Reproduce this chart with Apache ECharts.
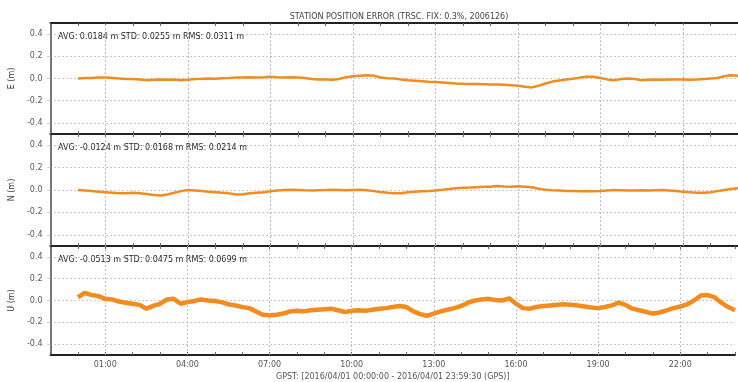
<!DOCTYPE html>
<html>
<head>
<meta charset="utf-8">
<script src="https://cdn.jsdelivr.net/npm/echarts@6/dist/echarts.min.js"></script>
<style>
  html, body { margin: 0; padding: 0; background: #fff; }
  #chart { width: 738px; height: 382px; }
</style>
</head>
<body>
<div id="chart"></div>
<script>
// hours of day, 15 min steps
const hours = [
  0, 0.25, 0.5, 0.75, 1, 1.25, 1.5, 1.75, 2, 2.25, 2.5, 2.75, 3, 3.25, 3.5, 3.75,
  4, 4.25, 4.5, 4.75, 5, 5.25, 5.5, 5.75, 6, 6.25, 6.5, 6.75, 7, 7.25, 7.5, 7.75,
  8, 8.25, 8.5, 8.75, 9, 9.25, 9.5, 9.75, 10, 10.25, 10.5, 10.75, 11, 11.25, 11.5, 11.75,
  12, 12.25, 12.5, 12.75, 13, 13.25, 13.5, 13.75, 14, 14.25, 14.5, 14.75, 15, 15.25, 15.5, 15.75,
  16, 16.25, 16.5, 16.75, 17, 17.25, 17.5, 17.75, 18, 18.25, 18.5, 18.75, 19, 19.25, 19.5, 19.75,
  20, 20.25, 20.5, 20.75, 21, 21.25, 21.5, 21.75, 22, 22.25, 22.5, 22.75, 23, 23.25, 23.5, 23.75, 24
];

const eastErr = [
  0.0, 0.005, 0.005, 0.01, 0.01, 0.005, 0.0, -0.005, -0.005, -0.01, -0.015, -0.012, -0.01, -0.012, -0.01, -0.015,
  -0.012, -0.005, -0.003, 0.0, -0.002, 0.003, 0.005, 0.008, 0.01, 0.012, 0.01, 0.012, 0.015, 0.012, 0.01, 0.012,
  0.01, 0.005, -0.005, -0.008, -0.01, -0.012, -0.005, 0.012, 0.02, 0.025, 0.03, 0.025, 0.01, 0.003, 0.0, -0.008,
  -0.015, -0.02, -0.025, -0.03, -0.032, -0.035, -0.04, -0.045, -0.048, -0.05, -0.05, -0.052, -0.055, -0.055, -0.057, -0.06,
  -0.065, -0.075, -0.08, -0.065, -0.045, -0.028, -0.018, -0.01, -0.002, 0.008, 0.015, 0.015, 0.005, -0.008, -0.015, -0.005,
  0.0, -0.005, -0.015, -0.012, -0.01, -0.012, -0.01, -0.008, -0.01, -0.012, -0.01, -0.005, 0.0, 0.005, 0.02, 0.03, 0.025
];

const northErr = [
  0.0, -0.005, -0.01, -0.015, -0.02, -0.025, -0.03, -0.028, -0.025, -0.03, -0.035, -0.045, -0.05, -0.04, -0.025, -0.01,
  0.0, -0.005, -0.01, -0.015, -0.02, -0.025, -0.03, -0.04, -0.038, -0.03, -0.025, -0.02, -0.012, -0.005, 0.0, 0.002,
  0.0, -0.003, -0.005, -0.002, 0.0, 0.003, 0.0, -0.003, 0.0, 0.002, -0.003, -0.01, -0.018, -0.025, -0.03, -0.028,
  -0.02, -0.015, -0.012, -0.01, -0.005, 0.002, 0.01, 0.015, 0.02, 0.022, 0.025, 0.028, 0.03, 0.035, 0.032, 0.03,
  0.033, 0.03, 0.025, 0.012, 0.003, -0.002, -0.005, -0.008, -0.01, -0.012, -0.01, -0.012, -0.01, -0.005, 0.0, -0.002,
  -0.005, -0.005, -0.003, -0.005, -0.002, 0.0, -0.005, -0.01, -0.015, -0.02, -0.025, -0.025, -0.02, -0.01, 0.0, 0.01, 0.015
];

const upErr = [
  0.03, 0.07, 0.05, 0.04, 0.015, 0.01, -0.01, -0.02, -0.03, -0.04, -0.075, -0.05, -0.03, 0.01, 0.015, -0.03,
  -0.015, -0.005, 0.01, 0.0, -0.005, -0.015, -0.035, -0.045, -0.06, -0.07, -0.1, -0.13, -0.135, -0.13, -0.12, -0.1,
  -0.095, -0.1, -0.09, -0.085, -0.08, -0.075, -0.09, -0.105, -0.095, -0.09, -0.095, -0.085, -0.075, -0.07, -0.06, -0.05,
  -0.06, -0.1, -0.125, -0.14, -0.12, -0.1, -0.085, -0.07, -0.05, -0.02, 0.0, 0.01, 0.015, 0.005, 0.0, 0.02,
  -0.03, -0.07, -0.075, -0.06, -0.05, -0.045, -0.04, -0.035, -0.04, -0.045, -0.055, -0.065, -0.07, -0.06, -0.045, -0.02,
  -0.04, -0.075, -0.09, -0.105, -0.12, -0.11, -0.09, -0.07, -0.055, -0.035, 0.0, 0.045, 0.05, 0.03, -0.02, -0.06, -0.09
];

const yTicks = [-0.4, -0.2, 0.0, 0.2, 0.4];
const majorHours = [1, 4, 7, 10, 13, 16, 19, 22];
const panelNames = ['E (m)', 'N (m)', 'U (m)'];
const panelStats = [
  'AVG: 0.0184 m STD: 0.0255 m RMS: 0.0311 m',
  'AVG: -0.0124 m STD: 0.0168 m RMS: 0.0214 m',
  'AVG: -0.0513 m STD: 0.0475 m RMS: 0.0699 m'
];
const panelData = [eastErr, northErr, upErr];

const chart = echarts.init(document.getElementById('chart'));

const font = 'DejaVu Sans';
const grids = [
  { left: 50, right: -2, top: 23, height: 111 },
  { left: 50, right: -2, top: 134, height: 112 },
  { left: 50, right: -2, top: 246, height: 111 }
];

const xAxes = [];
const yAxes = [];
const series = [];
const graphics = [];

grids.forEach((g, i) => {
  // bottom axis
  xAxes.push({
    type: 'value', gridIndex: i, position: 'bottom',
    min: -1, max: 24, interval: 1,
    axisLine: { show: true, onZero: false, lineStyle: { color: '#222', width: 2 } },
    axisTick: { show: true, inside: true, length: 3, lineStyle: { color: '#666' } },
    axisLabel: {
      show: i === 2, fontSize: 8, color: '#555', fontFamily: font, margin: 6,
      formatter: v => (v - 1) % 3 === 0 ? String(v).padStart(2, '0') + ':00' : ''
    },
    splitLine: { show: false },
    name: i === 2 ? 'GPST: [2016/04/01 00:00:00 - 2016/04/01 23:59:30 (GPS)]' : '',
    nameLocation: 'middle', nameGap: 18,
    nameTextStyle: { fontSize: 8, color: '#555', fontFamily: font }
  });
  // top axis
  xAxes.push({
    type: 'value', gridIndex: i, position: 'top',
    min: -1, max: 24, interval: 1,
    axisLine: { show: true, onZero: false, lineStyle: { color: '#222', width: 2 } },
    axisTick: { show: true, inside: true, length: 3, lineStyle: { color: '#666' } },
    axisLabel: { show: false },
    splitLine: { show: false }
  });
  yAxes.push({
    type: 'value', gridIndex: i, min: -0.5, max: 0.5,
    name: panelNames[i], nameLocation: 'middle', nameGap: 34, nameRotate: 90,
    nameTextStyle: { fontSize: 8, color: '#333', fontFamily: font },
    axisLine: { show: true, onZero: false, lineStyle: { color: '#777', width: 2 } },
    axisTick: { show: true, customValues: yTicks, length: 3, lineStyle: { color: '#aaa', type: 'dotted' } },
    axisLabel: {
      customValues: yTicks, fontSize: 8, color: '#555', fontFamily: font, margin: 8,
      formatter: v => v.toFixed(1)
    },
    splitLine: { show: true, lineStyle: { color: '#bbb', type: [1.5, 2.5], width: 1 } }
  });
  series.push({
    type: 'line', xAxisIndex: i * 2, yAxisIndex: i,
    data: hours.map((h, k) => [h, panelData[i][k]]),
    showSymbol: false, symbol: 'none',
    lineStyle: { color: '#f28c1e', width: i === 2 ? 4.5 : 2.5 },
    itemStyle: { color: '#f28c1e' },
    animation: false,
    markLine: {
      silent: true, symbol: 'none', label: { show: false },
      lineStyle: { color: '#aaa', type: [1.5, 2.5], width: 1 },
      data: majorHours.map(h => ({ xAxis: h }))
    },
    z: 3
  });
  graphics.push({
    type: 'text', left: 58, top: g.top + 10,
    style: { text: panelStats[i], fontSize: 8, fill: '#222', fontFamily: font }
  });
});

chart.setOption({
  animation: false,
  backgroundColor: '#fff',
  title: {
    text: 'STATION POSITION ERROR (TRSC. FIX: 0.3%, 2006126)',
    left: 394, top: 8, textAlign: 'center',
    textStyle: { fontSize: 8, fontWeight: 'normal', color: '#444', fontFamily: font }
  },
  grid: grids,
  xAxis: xAxes,
  yAxis: yAxes,
  series: series,
  graphic: graphics
});
</script>
</body>
</html>
